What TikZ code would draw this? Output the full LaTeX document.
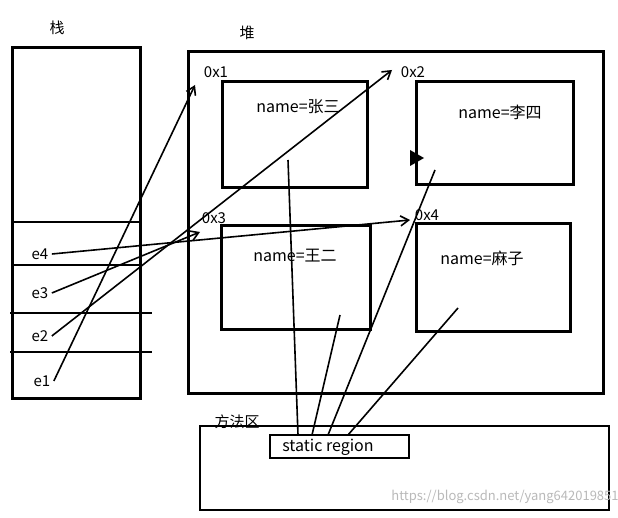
\documentclass[tikz,border=0pt]{standalone}
\usepackage{fontspec}
\setmainfont{Noto Sans CJK SC}
\usetikzlibrary{arrows.meta}
\begin{document}
\begin{tikzpicture}[x=1pt,y=-1pt,
  box/.style={draw,line width=3pt},
  ln/.style={line width=1.6pt},
  arr/.style={ln,-{Straight Barb[length=8pt,width=10pt]}},
  lbl/.style={font=\fontsize{15}{17}\selectfont},
  txt/.style={font=\fontsize{16}{18}\selectfont}]
\useasboundingbox (0,0) rectangle (618,518);
\node[lbl] (tz) at (57,28) {栈};
\draw[box] (12,48) rectangle (140,398);
\draw[ln] (12,222) -- (140,222);
\draw[ln] (12,265) -- (140,265);
\draw[ln] (10,313) -- (152,313);
\draw[ln] (10,352) -- (152,352);
\node[lbl] (e4) at (40,254) {e4};
\node[lbl] (e3) at (40,293) {e3};
\node[lbl] (e2) at (40,336) {e2};
\node[lbl] (e1) at (42,381) {e1};
\node[lbl] (dui) at (247,33) {堆};
\draw[box] (188,52) rectangle (603,393);
\draw[box] (222,82) rectangle (367,188);
\draw[box] (416,82) rectangle (573,185);
\draw[box] (221,226) rectangle (370,330);
\draw[box] (416,224) rectangle (570,332);
\node[txt] (n1) at (298,107) {name=张三};
\node[txt] (n2) at (500,112) {name=李四};
\node[txt] (n3) at (295,256) {name=王二};
\node[txt] (n4) at (482,258) {name=麻子};
\node[lbl] (a1) at (216,72) {0x1};
\node[lbl] (a2) at (413,72) {0x2};
\node[lbl] (a3) at (214,218) {0x3};
\node[lbl] (a4) at (427,215) {0x4};
\fill (410,150) -- (424,158) -- (410,166) -- cycle;
\node[lbl] (ff) at (237,422) {方法区};
\draw[ln] (200,426) rectangle (609,510);
\draw[line width=2pt] (270,435) rectangle (409,458);
\node[txt] (sr) at (328,447) {static region};
\coordinate (t1) at (195,85);
\coordinate (t2) at (392,70);
\coordinate (t3) at (200,232);
\coordinate (t4) at (410,220);
\draw[arr] (e1.east) -- (t1);
\draw[arr] (e2.east) -- (t2);
\draw[arr] (e3.east) -- (t3);
\draw[arr] (e4.east) -- (t4);
\coordinate (p1) at (288,160);
\coordinate (p2) at (340,315);
\coordinate (p3) at (435,170);
\coordinate (p4) at (458,308);
\draw[ln] (298,435) -- (p1);
\draw[ln] (312,435) -- (p2);
\draw[ln] (328,435) -- (p3);
\draw[ln] (348,435) -- (p4);
\node[font=\fontsize{13}{15}\selectfont,text=gray!55] (wm) at (505,497) {https://blog.csdn.net/yang642019851};
\end{tikzpicture}
\end{document}
